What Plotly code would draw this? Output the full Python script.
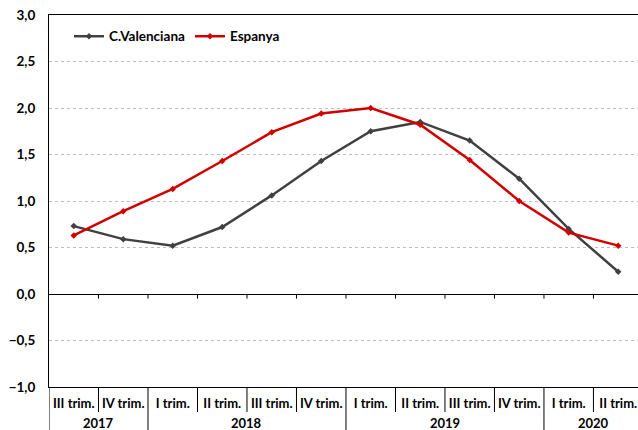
import plotly.graph_objects as go

years = ["2017", "2017", "2018", "2018", "2018", "2018", "2019", "2019", "2019", "2019", "2020", "2020"]
quarters = ["III trim.", "IV trim.", "I trim.", "II trim.", "III trim.", "IV trim.",
            "I trim.", "II trim.", "III trim.", "IV trim.", "I trim.", "II trim."]
valenciana = [0.73, 0.59, 0.52, 0.72, 1.06, 1.43, 1.75, 1.85, 1.65, 1.24, 0.70, 0.24]
espanya = [0.63, 0.89, 1.13, 1.43, 1.74, 1.94, 2.00, 1.82, 1.44, 1.00, 0.66, 0.52]

FONT = "Lato"
W, H = 638, 430
M = dict(l=49, r=0, t=15, b=43)
plot_h = H - M["t"] - M["b"]


def px_below(p):
    """pixels below the plot bottom -> paper y"""
    return -p / plot_h


idx = list(range(len(quarters)))
fig = go.Figure()
fig.add_trace(go.Scatter(
    x=idx, y=valenciana, name="C.Valenciana", mode="lines+markers",
    line=dict(color="#404040", width=2.5),
    marker=dict(symbol="diamond", size=5, color="#404040")))
fig.add_trace(go.Scatter(
    x=idx, y=espanya, name="Espanya", mode="lines+markers",
    line=dict(color="#d00000", width=2.5),
    marker=dict(symbol="diamond", size=5, color="#d00000")))

n = len(quarters)
# tick marks on the zero line at category boundaries
for i in range(n - 1):
    fig.add_shape(type="line", xref="x", yref="y", x0=i + 0.5, x1=i + 0.5, y0=0, y1=-0.05,
                  line=dict(color="black", width=1))

# category table below the plot: separators and year labels
fig.add_shape(type="line", xref="x", yref="paper", x0=-0.5, x1=-0.5,
              y0=0, y1=px_below(45), line=dict(color="black", width=1))
for i in range(n - 1):
    year_break = years[i] != years[i + 1]
    fig.add_shape(type="line", xref="x", yref="paper", x0=i + 0.5, x1=i + 0.5,
                  y0=0, y1=px_below(45 if year_break else 25),
                  line=dict(color="black", width=1))

groups = []
for i, yv in enumerate(years):
    if groups and groups[-1][0] == yv:
        groups[-1][2] = i
    else:
        groups.append([yv, i, i])
for yv, a, b in groups:
    fig.add_annotation(x=(a + b) / 2, y=px_below(36), xref="x", yref="paper",
                       text=yv, showarrow=False, yanchor="middle", xanchor="center",
                       font=dict(family=FONT, size=13, weight="bold", color="black"))

fig.update_layout(
    width=W, height=H, autosize=False,
    margin=M,
    paper_bgcolor="white", plot_bgcolor="white",
    separators=",.",
    font=dict(family=FONT, color="black"),
    showlegend=True,
    legend=dict(orientation="h", x=0.034, y=0.984, xanchor="left", yanchor="top",
                font=dict(family=FONT, size=13.5, weight="bold"),
                bgcolor="rgba(0,0,0,0)"),
    xaxis=dict(range=[-0.5, 11.4], tickmode="array", tickvals=idx, ticktext=quarters,
               showline=True, linecolor="black", linewidth=1, mirror=True,
               ticks="", ticklabelstandoff=4, automargin=False,
               tickfont=dict(family=FONT, size=13, weight="bold"),
               showgrid=False, zeroline=False),
    yaxis=dict(range=[-1, 3], dtick=0.5, tickformat=".1f",
               showline=True, linecolor="black", linewidth=1, mirror=False,
               ticks="", ticklabelstandoff=10, automargin=False,
               tickfont=dict(family=FONT, size=13.5, weight="bold"),
               showgrid=True, gridcolor="#bdbdbd", griddash="dot", gridwidth=1,
               zeroline=True, zerolinecolor="black", zerolinewidth=1),
)

fig.write_html("out.html", config={"displayModeBar": False},
               post_script="document.body.style.margin='0';")
